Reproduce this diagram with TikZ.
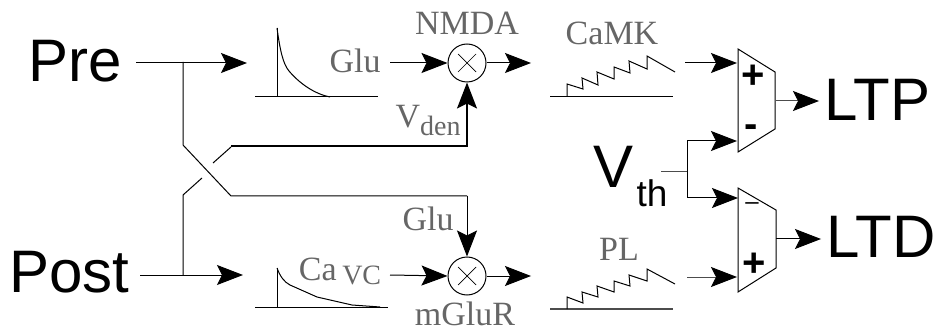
\documentclass[tikz,border=0pt]{standalone}
\usepackage{fontspec}
\setmainfont{Liberation Serif}
\setsansfont{Liberation Sans}
\usepackage{tikz}
\usetikzlibrary{arrows.meta}
\colorlet{labelGray}{black!60}
\colorlet{wireGray}{black!70}

\begin{document}
\begin{tikzpicture}[
  x=1pt,y=-1pt,
  line width=1pt,
  every node/.style={inner sep=0pt},
  wire/.style={-{Stealth[length=26pt,width=20pt,inset=5pt,color=black]}},
  sublabel/.style={anchor=base,text=labelGray,font=\fontsize{34}{34}\selectfont},
  signal/.style={anchor=base west,font=\sffamily\fontsize{60}{60}\selectfont},
  sign/.style={font=\sffamily\bfseries\fontsize{40}{40}\selectfont},
  mult/.style={circle,draw,minimum size=38pt,
    path picture={
      \draw[line width=.7pt] (path picture bounding box.center) ++(-9,-9) -- ++(18,18);
      \draw[line width=.7pt] (path picture bounding box.center) ++(9,-9) -- ++(-18,18);
    }
  }
]
\useasboundingbox (0,0) rectangle (937,331);
% inputs
\node[signal] (pre) at (28,82) {Pre};
\node[signal] (post) at (9,292) {Post};
\node[signal] (vth) at (593,188) {V};
\node[anchor=base west,font=\sffamily\fontsize{37}{37}\selectfont] (th) at (636,207) {th};
\node[signal] (ltp) at (824,121) {LTP};
\node[signal] (ltd) at (826,258) {LTD};
% multipliers
\node[mult] (nmda) at (467,63) {};
\node[mult] (mglur) at (467,276) {};
\node[sublabel] (nmdaText) at (467,35) {NMDA};
\node[sublabel] (mglurText) at (465,325) {mGluR};
\node[sublabel] (gluA) at (355,73) {Glu};
\node[sublabel] (gluB) at (428,230) {Glu};
\node[sublabel] (vden) at (428,128) {V\raisebox{-8pt}{\fontsize{28}{28}\selectfont den}};
\node[sublabel] (ca) at (340,280) {Ca\,\raisebox{-4pt}{\fontsize{28}{28}\selectfont VC}};
\node[sublabel] (camk) at (612,45) {CaMK};
\node[sublabel] (pl) at (619,260) {PL};
% crossing wires
\coordinate (preIn) at (136,63);
\coordinate (preOut) at (247,63);
\coordinate (postIn) at (140,275);
\coordinate (postOut) at (243,275);
\draw[wire] (preIn) -- (preOut);
\draw[wire] (postIn) -- (postOut);
\draw (183,62) -- (183,145) -- (231,196) -- (467,196);
\draw (183,275) -- (183,195) -- (202,178);
\draw (213,163) -- (231,147);
\draw[wire] (467,196) -- (mglur.north);
\draw[wire,line width=1.3pt] (231,146) -- (467,146) -- (nmda.south);
% pulses
\draw (255,97) -- (378,97);
\draw (277,97) -- (277,28);
\draw (277,28) .. controls (280,50) and (283,64) .. (289,71) .. controls (300,84) and (315,94) .. (330,97);
\draw (255,307) -- (388,307);
\draw (277,307) -- (277,268);
\draw (277,268) .. controls (280,276) and (284,282) .. (290,285) -- (317,297) -- (352,305) -- (380,307);
% multiplier wires
\coordinate (gluIn) at (390,63);
\coordinate (caIn) at (390,275);
\coordinate (nmdaOut) at (531,63);
\coordinate (mglurOut) at (531,276);
\draw[wire] (gluIn) -- (nmda.west);
\draw[wire] (caIn) -- (mglur.west);
\draw[wire] (nmda.east) -- (nmdaOut);
\draw[wire] (mglur.east) -- (mglurOut);
% sawtooths
\draw (550,97) -- (673,97);
\draw (567,97) -- (567,84) -- (583,89) -- (582,78) -- (598,85) -- (597,72) -- (614,79) -- (614,67) -- (630,73) -- (629,61) -- (647,69) -- (647,56) -- (675,72);
\draw[wireGray,line width=1.3pt] (550,309) -- (673,309);
\draw (567,309) -- (567,297) -- (583,303) -- (582,292) -- (598,297) -- (597,286) -- (614,292) -- (614,281) -- (630,286) -- (629,275) -- (647,281) -- (647,269) -- (675,284);
% comparators
\draw (738,49) coordinate (upA) -- (775,72) -- (775,129) -- (738,152) coordinate (upB) -- cycle;
\draw (738,188) coordinate (lowA) -- (776,210) -- (776,268) -- (738,292) coordinate (lowB) -- cycle;
\node[sign] (plusA) at (753,77) {+};
\node[sign] (minusA) at (751,131) {-};
\node[font=\sffamily\fontsize{24}{24}\selectfont] (minusB) at (752,206) {–};
\node[sign] (plusB) at (754,265) {+};
\coordinate (camkIn) at (685,63);
\coordinate (plIn) at (687,277);
\coordinate (vthOut) at (661,172);
\coordinate (vthFork) at (687,172);
\draw[wire] (camkIn) -- (737,63);
\draw[wire,wireGray] (plIn) -- (737,277);
\draw[wireGray] (vthOut) -- (vthFork);
\draw[wire] (vthFork) |- (737,141);
\draw[wire] (vthFork) |- (738,198);
\draw[wire,wireGray] (776,101) -- (819,101);
\draw[wire] (776,239) -- (821,239);
\end{tikzpicture}
\end{document}
